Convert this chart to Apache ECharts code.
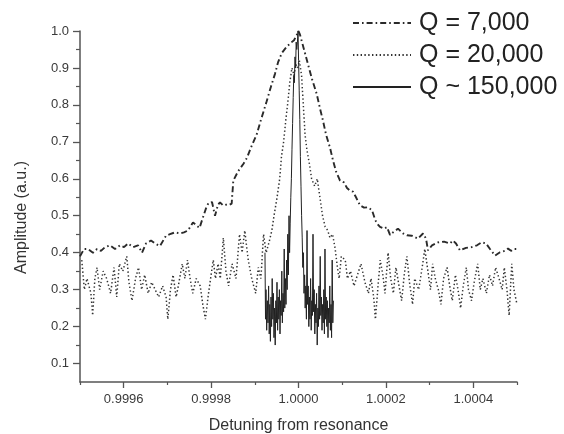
<!DOCTYPE html>
<html>
<head>
<meta charset="utf-8">
<title>Detuning from resonance</title>
<script src="https://cdn.jsdelivr.net/npm/echarts@6/dist/echarts.min.js"></script>
<style>
  html, body { margin: 0; padding: 0; background: #fff; }
  #main { width: 564px; height: 434px; }
</style>
</head>
<body>
<div id="main"></div>
<script>
// Q = 7,000 (dash-dot)
var q7000X = [0.9995000, 0.9995034, 0.9995092, 0.9995183, 0.9995297, 0.9995389, 0.9995481, 0.9995572, 0.9995686, 0.9995801,
  0.9995915, 0.9996007, 0.9996098, 0.9996213, 0.9996327, 0.9996419, 0.9996510, 0.9996625, 0.9996716, 0.9996831,
  0.9996968, 0.9997059, 0.9997174, 0.9997288, 0.9997380, 0.9997471, 0.9997586, 0.9997654, 0.9997735, 0.9997815,
  0.9997883, 0.9997941, 0.9998021, 0.9998089, 0.9998158, 0.9998204, 0.9998272, 0.9998341, 0.9998410, 0.9998471,
  0.9998508, 0.9998616, 0.9998737, 0.9998822, 0.9998913, 0.9999043, 0.9999142, 0.9999272, 0.9999371, 0.9999462,
  0.9999531, 0.9999616, 0.9999714, 0.9999805, 0.9999897, 0.9999943, 1.0000000, 1.0000034, 1.0000126, 1.0000217,
  1.0000309, 1.0000416, 1.0000492, 1.0000561, 1.0000629, 1.0000721, 1.0000789, 1.0000858, 1.0000950, 1.0001041,
  1.0001110, 1.0001178, 1.0001247, 1.0001316, 1.0001407, 1.0001499, 1.0001590, 1.0001682, 1.0001751, 1.0001796,
  1.0001865, 1.0001957, 1.0002025, 1.0002094, 1.0002162, 1.0002277, 1.0002391, 1.0002483, 1.0002590, 1.0002735,
  1.0002849, 1.0002918, 1.0002963, 1.0003055, 1.0003192, 1.0003330, 1.0003467, 1.0003535, 1.0003604, 1.0003696,
  1.0003833, 1.0003963, 1.0004085, 1.0004192, 1.0004291, 1.0004382, 1.0004497, 1.0004611, 1.0004725, 1.0004794,
  1.0004863, 1.0004931, 1.0005000];
var q7000Y = [0.39, 0.392, 0.41, 0.41, 0.40, 0.41, 0.405, 0.415, 0.42, 0.41,
  0.42, 0.415, 0.425, 0.415, 0.42, 0.40, 0.425, 0.433, 0.425, 0.418,
  0.446, 0.45, 0.455, 0.452, 0.455, 0.46, 0.482, 0.475, 0.467, 0.496,
  0.52, 0.535, 0.537, 0.50, 0.53, 0.536, 0.528, 0.53, 0.529, 0.533,
  0.595, 0.62, 0.64, 0.657, 0.685, 0.72, 0.76, 0.81, 0.85, 0.884,
  0.915, 0.94, 0.955, 0.966, 0.975, 0.985, 1.0, 0.99, 0.95, 0.91,
  0.87, 0.83, 0.79, 0.757, 0.72, 0.684, 0.65, 0.62, 0.595, 0.59,
  0.575, 0.568, 0.565, 0.55, 0.528, 0.522, 0.523, 0.515, 0.49, 0.479,
  0.47, 0.465, 0.469, 0.448, 0.455, 0.465, 0.452, 0.447, 0.446, 0.438,
  0.452, 0.438, 0.406, 0.42, 0.428, 0.43, 0.425, 0.433, 0.425, 0.406,
  0.413, 0.415, 0.42, 0.428, 0.425, 0.41, 0.392, 0.401, 0.405, 0.411,
  0.405, 0.41, 0.41];

// Q = 20,000 (dotted)
var q20000X = [0.999504, 0.999510, 0.999516, 0.999525, 0.999529, 0.999534, 0.999539, 0.999545, 0.999553, 0.999561,
  0.999570, 0.999578, 0.999584, 0.999590, 0.999598, 0.999607, 0.999612, 0.999619, 0.999627, 0.999634,
  0.999641, 0.999648, 0.999656, 0.999664, 0.999672, 0.999680, 0.999689, 0.999697, 0.999701, 0.999707,
  0.999713, 0.999720, 0.999725, 0.999734, 0.999740, 0.999746, 0.999752, 0.999758, 0.999766, 0.999775,
  0.999781, 0.999787, 0.999793, 0.999800, 0.999805, 0.999810, 0.999816, 0.999821, 0.999828, 0.999834,
  0.999840, 0.999848, 0.999857, 0.999865, 0.999871, 0.999877, 0.999885, 0.999893, 0.999902, 0.999908,
  0.999914, 0.999920, 0.999926, 0.999933, 0.999939, 0.999944, 0.999951, 0.999957, 0.999961, 0.999966,
  0.999971, 0.999975, 0.999980, 0.999985, 0.999990, 0.999994, 0.999998, 1.000002, 1.000007, 1.000011,
  1.000015, 1.000019, 1.000025, 1.000030, 1.000037, 1.000043, 1.000049, 1.000055, 1.000061, 1.000067,
  1.000072, 1.000078, 1.000084, 1.000089, 1.000093, 1.000098, 1.000107, 1.000112, 1.000119, 1.000127,
  1.000135, 1.000143, 1.000152, 1.000160, 1.000166, 1.000172, 1.000176, 1.000182, 1.000187, 1.000193,
  1.000198, 1.000205, 1.000211, 1.000217, 1.000223, 1.000230, 1.000236, 1.000242, 1.000248, 1.000254,
  1.000261, 1.000266, 1.000275, 1.000283, 1.000289, 1.000295, 1.000302, 1.000307, 1.000313, 1.000320,
  1.000326, 1.000332, 1.000340, 1.000346, 1.000352, 1.000359, 1.000365, 1.000371, 1.000377, 1.000384,
  1.000389, 1.000396, 1.000402, 1.000410, 1.000416, 1.000422, 1.000430, 1.000437, 1.000444, 1.000451,
  1.000459, 1.000466, 1.000471, 1.000477, 1.000482, 1.000488, 1.000493, 1.000500];
var q20000Y = [0.38, 0.30, 0.33, 0.29, 0.23, 0.33, 0.36, 0.30, 0.35, 0.33,
  0.29, 0.36, 0.28, 0.37, 0.35, 0.39, 0.32, 0.27, 0.33, 0.36,
  0.30, 0.34, 0.29, 0.32, 0.30, 0.28, 0.31, 0.28, 0.22, 0.30,
  0.34, 0.28, 0.31, 0.37, 0.33, 0.38, 0.33, 0.29, 0.33, 0.31,
  0.26, 0.22, 0.28, 0.34, 0.38, 0.33, 0.37, 0.33, 0.44, 0.35,
  0.31, 0.37, 0.33, 0.45, 0.40, 0.46, 0.38, 0.33, 0.29, 0.36,
  0.33, 0.45, 0.40, 0.43, 0.46, 0.50, 0.55, 0.60, 0.66, 0.70,
  0.76, 0.80, 0.86, 0.90, 0.88, 0.91, 0.90, 0.92, 0.88, 0.80,
  0.72, 0.68, 0.64, 0.60, 0.58, 0.60, 0.55, 0.50, 0.47, 0.46,
  0.44, 0.45, 0.41, 0.36, 0.33, 0.39, 0.38, 0.33, 0.35, 0.31,
  0.34, 0.37, 0.32, 0.29, 0.33, 0.28, 0.22, 0.31, 0.38, 0.34,
  0.29, 0.40, 0.33, 0.29, 0.36, 0.31, 0.27, 0.34, 0.39, 0.32,
  0.26, 0.33, 0.30, 0.36, 0.41, 0.36, 0.30, 0.37, 0.33, 0.30,
  0.26, 0.33, 0.36, 0.31, 0.27, 0.34, 0.30, 0.25, 0.31, 0.36,
  0.30, 0.27, 0.32, 0.37, 0.30, 0.33, 0.29, 0.34, 0.31, 0.36,
  0.33, 0.30, 0.36, 0.30, 0.23, 0.37, 0.30, 0.26];

// Q ~ 150,000 (solid)
var q150kX = [0.9999233, 0.9999245, 0.9999256, 0.9999272, 0.9999286, 0.9999302, 0.9999316, 0.9999330, 0.9999343, 0.9999357,
  0.9999371, 0.9999385, 0.9999398, 0.9999412, 0.9999426, 0.9999439, 0.9999453, 0.9999467, 0.9999481, 0.9999494,
  0.9999508, 0.9999522, 0.9999535, 0.9999549, 0.9999563, 0.9999577, 0.9999590, 0.9999604, 0.9999618, 0.9999631,
  0.9999645, 0.9999659, 0.9999673, 0.9999686, 0.9999700, 0.9999714, 0.9999728, 0.9999741, 0.9999755, 0.9999769,
  0.9999783, 0.9999796, 0.9999810, 0.9999824, 0.9999837, 0.9999851, 0.9999865, 0.9999879, 0.9999892, 0.9999906,
  0.9999920, 0.9999934, 0.9999947, 0.9999961, 0.9999975, 0.9999989, 1.0000002, 1.0000016, 1.0000030, 1.0000043,
  1.0000057, 1.0000071, 1.0000085, 1.0000098, 1.0000112, 1.0000126, 1.0000140, 1.0000153, 1.0000167, 1.0000181,
  1.0000195, 1.0000208, 1.0000222, 1.0000236, 1.0000249, 1.0000263, 1.0000277, 1.0000291, 1.0000304, 1.0000318,
  1.0000332, 1.0000346, 1.0000359, 1.0000373, 1.0000387, 1.0000400, 1.0000414, 1.0000428, 1.0000442, 1.0000455,
  1.0000469, 1.0000483, 1.0000497, 1.0000510, 1.0000524, 1.0000538, 1.0000551, 1.0000565, 1.0000579, 1.0000593,
  1.0000606, 1.0000620, 1.0000634, 1.0000648, 1.0000661, 1.0000675, 1.0000689, 1.0000703, 1.0000716, 1.0000730,
  1.0000744, 1.0000757, 1.0000771, 1.0000785, 1.0000799];
var q150kY = [0.40, 0.22, 0.30, 0.19, 0.27, 0.21, 0.31, 0.18, 0.26, 0.16,
  0.28, 0.20, 0.33, 0.22, 0.29, 0.17, 0.25, 0.15, 0.27, 0.21,
  0.32, 0.19, 0.28, 0.22, 0.30, 0.18, 0.27, 0.23, 0.35, 0.21,
  0.29, 0.24, 0.41, 0.25, 0.33, 0.26, 0.38, 0.30, 0.45, 0.34,
  0.50, 0.40, 0.48, 0.55, 0.60, 0.68, 0.75, 0.82, 0.88, 0.86,
  0.93, 0.90, 0.97, 0.95, 0.97, 1.00, 0.92, 0.84, 0.76, 0.66,
  0.58, 0.50, 0.44, 0.36, 0.40, 0.29, 0.34, 0.25, 0.31, 0.22,
  0.46, 0.26, 0.31, 0.20, 0.28, 0.22, 0.33, 0.19, 0.27, 0.23,
  0.45, 0.24, 0.30, 0.18, 0.26, 0.21, 0.29, 0.15, 0.25, 0.20,
  0.31, 0.22, 0.39, 0.23, 0.28, 0.19, 0.26, 0.21, 0.30, 0.18,
  0.41, 0.22, 0.28, 0.20, 0.27, 0.17, 0.25, 0.21, 0.31, 0.19,
  0.26, 0.17, 0.38, 0.21, 0.27];

var xMajorTicks = [0.9996, 0.9998, 1.0000, 1.0002, 1.0004];
var xMinorTicks = [0.9995, 0.9997, 0.9999, 1.0001, 1.0003, 1.0005];
var yMajorTicks = [0.1, 0.2, 0.3, 0.4, 0.5, 0.6, 0.7, 0.8, 0.9, 1.0];
var yMinorTicks = [0.15, 0.25, 0.35, 0.45, 0.55, 0.65, 0.75, 0.85, 0.95];

function pairs(xs, ys) {
  var out = [];
  for (var i = 0; i < xs.length; i++) out.push([xs[i], ys[i]]);
  return out;
}

var fontName = 'Liberation Sans, Arial, sans-serif';
var axisColor = '#555';
var labelStyle = { fontFamily: fontName, fontSize: 13, color: '#3a3a3a' };

var myChart = echarts.init(document.getElementById('main'));
myChart.setOption({
  animation: false,
  backgroundColor: '#fff',
  grid: { left: 80, right: 47, top: 31, bottom: 52, outerBoundsMode: 'none', containLabel: false },
  legend: {
    orient: 'vertical',
    left: 352,
    top: 10,
    padding: 0,
    itemWidth: 58,
    itemHeight: 14,
    itemGap: 6,
    itemStyle: { opacity: 0 },
    textStyle: { fontFamily: fontName, fontSize: 25, lineHeight: 26, color: '#222', padding: [0, 0, 0, 3] },
    data: ['Q = 7,000', 'Q = 20,000', 'Q ~ 150,000']
  },
  xAxis: [{
    type: 'value',
    min: 0.9995,
    max: 1.0005,
    name: 'Detuning from resonance',
    nameLocation: 'middle',
    nameGap: 36,
    nameTextStyle: { fontFamily: fontName, fontSize: 16, color: '#333' },
    axisLine: { lineStyle: { color: axisColor, width: 1.5 } },
    axisTick: { show: true, inside: false, length: 6, customValues: xMajorTicks, lineStyle: { color: axisColor, width: 1.3 } },
    axisLabel: Object.assign({ margin: 11, customValues: xMajorTicks, formatter: function (v) { return v.toFixed(4); } }, labelStyle),
    splitLine: { show: false }
  }, {
    type: 'value',
    min: 0.9995,
    max: 1.0005,
    position: 'bottom',
    axisLine: { show: false },
    axisTick: { show: true, inside: false, length: 3, customValues: xMinorTicks, lineStyle: { color: axisColor, width: 1.2 } },
    axisLabel: { show: false },
    splitLine: { show: false }
  }],
  yAxis: [{
    type: 'value',
    min: 0.05,
    max: 1.0,
    name: 'Amplitude (a.u.)',
    nameLocation: 'middle',
    nameGap: 50,
    nameTextStyle: { fontFamily: fontName, fontSize: 16, color: '#333', padding: [0, 22, 0, 0] },
    axisLine: { show: true, lineStyle: { color: axisColor, width: 1.5 } },
    axisTick: { show: true, inside: false, length: 7, customValues: yMajorTicks, lineStyle: { color: axisColor, width: 1.3 } },
    axisLabel: Object.assign({ margin: 11, customValues: yMajorTicks, formatter: function (v) { return v.toFixed(1); } }, labelStyle),
    splitLine: { show: false }
  }, {
    type: 'value',
    min: 0.05,
    max: 1.0,
    position: 'left',
    axisLine: { show: false },
    axisTick: { show: true, inside: false, length: 4, customValues: yMinorTicks, lineStyle: { color: axisColor, width: 1.2 } },
    axisLabel: { show: false },
    splitLine: { show: false }
  }],
  series: [{
    name: 'Q = 7,000',
    type: 'line',
    symbol: 'none',
    color: '#2a2a2a',
    lineStyle: { color: '#2a2a2a', width: 1.9, type: [6, 3, 1.6, 3] },
    data: pairs(q7000X, q7000Y)
  }, {
    name: 'Q = 20,000',
    type: 'line',
    symbol: 'none',
    color: '#333',
    lineStyle: { color: '#333', width: 1.5, type: [1.4, 2.4] },
    data: pairs(q20000X, q20000Y)
  }, {
    name: 'Q ~ 150,000',
    type: 'line',
    symbol: 'none',
    color: '#222',
    lineStyle: { color: '#222', width: 1 },
    data: pairs(q150kX, q150kY)
  }]
});
</script>
</body>
</html>
